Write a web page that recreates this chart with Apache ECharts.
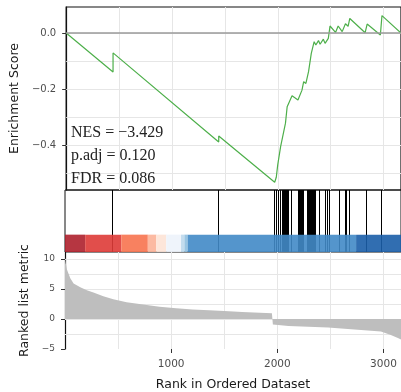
<!DOCTYPE html>
<html>
<head>
<meta charset="utf-8">
<script src="https://cdn.jsdelivr.net/npm/echarts@6/dist/echarts.min.js"></script>
<style>
  html, body { margin: 0; padding: 0; background: #fff; }
  #chart { width: 401px; height: 392px; }
</style>
</head>
<body>
<div id="chart"></div>
<script>
// running enrichment score, [rank, score]
const esPoints = [
  [0, 0], [443, -0.139], [443, -0.071], [1442, -0.389], [1442, -0.368],
  [1971, -0.533], [1986, -0.515], [2000, -0.47], [2010, -0.475], [2027, -0.406],
  [2042, -0.412], [2073, -0.322], [2089, -0.263], [2135, -0.224], [2191, -0.239],
  [2229, -0.204], [2245, -0.174], [2266, -0.18], [2291, -0.138], [2317, -0.073],
  [2344, -0.031], [2360, -0.043], [2385, -0.027], [2400, -0.04], [2431, -0.022],
  [2447, -0.037], [2478, -0.019], [2494, 0.025], [2546, 0.002], [2571, 0.025],
  [2609, 0.005], [2640, 0.033], [2665, 0.024], [2681, 0.052], [2826, 0.001],
  [2845, 0.032], [2970, -0.007], [2985, 0.062], [3165, 0.0]
];

// positions of gene-set hits
const hitRanks = [
  443, 1442, 1971, 1983, 2002, 2021, 2042, 2051, 2060, 2070, 2079, 2088, 2098,
  2105, 2126, 2195, 2207, 2217, 2226, 2236, 2245, 2282, 2291, 2301, 2310, 2319,
  2329, 2338, 2347, 2354, 2394, 2450, 2469, 2488, 2581, 2634, 2649, 2674, 2836, 2976
];

// colour bar segments [fromRank, toRank]
const barSegments = [
  [0, 190], [190, 530], [530, 780], [780, 860], [860, 953], [953, 1093],
  [1093, 1125], [1125, 1155], [1155, 2742], [2742, 3165]
];
const barColors = [
  '#ae202c', '#de3b37', '#f7734f', '#fcb398', '#fde3d6', '#edf3fb',
  '#bdd8ec', '#8fbfdf', '#4189c6', '#1b5ea8'
];

// ranked list metric, [rank, value]
const metricPoints = [
  [0, 10.3], [8, 9.2], [19, 8.2], [50, 6.8], [81, 5.9], [144, 5.3], [206, 4.8],
  [268, 4.4], [361, 3.8], [455, 3.3], [580, 2.8], [735, 2.4], [891, 2.05],
  [1047, 1.8], [1202, 1.6], [1358, 1.45], [1544, 1.3], [1669, 1.17], [1949, 0.95],
  [1958, -0.9], [2105, -1.17], [2478, -1.4], [2789, -1.83], [2976, -2.1],
  [3069, -2.67], [3141, -3.2], [3165, -3.4]
];

const esTicks = [0, -0.2, -0.4];
const esGrid = [0, -0.1, -0.2, -0.3, -0.4, -0.5];
const metricTicks = [-5, 0, 5, 10];
const metricGrid = [10, 7.5, 5, 2.5, 0, -2.5];
const rankTicks = [1000, 2000, 3000];

const X_MAX = 3165;
const ES_MIN = -0.5607, ES_MAX = 0.0929;
const MET_MIN = -5, MET_MAX = 11.17;
const GRID_LINE = '#e6e6e6';
const TICK_TEXT = '#4d4d4d';
const SANS = 'DejaVu Sans';

const chart = echarts.init(document.getElementById('chart'));

const minus = (s) => s.replace('-', '\u2212');

const plainAxis = (gridIndex, min, max) => ({
  type: 'value', gridIndex, min, max,
  axisLine: { show: false }, axisTick: { show: false },
  axisLabel: { show: false }, splitLine: { show: false }
});
const gridLines = () => ({ show: true, lineStyle: { color: GRID_LINE, width: 1 } });
const blackLine = () => ({ show: true, lineStyle: { color: '#111', width: 1.2 } });
const ticks = (values) => ({ show: true, customValues: values, length: 4, lineStyle: { color: '#333' } });
const nameStyle = () => ({ fontFamily: SANS, fontSize: 12.5, color: '#1a1a1a' });

// horizontal background grid lines drawn through the panel's own scales
const hGridSeries = (xi, yi, values) => ({
  type: 'custom', xAxisIndex: xi, yAxisIndex: yi, z: 1, silent: true,
  data: values.map((v) => [0, v]),
  renderItem: (params, api) => {
    const a = api.coord([0, api.value(1)]);
    const b = api.coord([X_MAX, api.value(1)]);
    const y = Math.round(a[1]) + 0.5;
    return {
      type: 'line',
      shape: { x1: a[0], y1: y, x2: b[0], y2: y },
      style: { stroke: GRID_LINE, lineWidth: 1 }
    };
  }
});

const option = {
  animation: false,
  grid: [
    { left: 65, top: 7, right: -3, height: 183, show: true, borderColor: '#111', borderWidth: 1.2, backgroundColor: 'transparent' },
    { left: 65, top: 190, right: -3, height: 62, show: true, borderColor: '#111', borderWidth: 1, backgroundColor: 'transparent' },
    { left: 65, top: 252, right: -3, height: 97 }
  ],
  xAxis: [
    Object.assign(plainAxis(0, 0, X_MAX), { interval: 500, splitLine: gridLines() }),
    plainAxis(1, 0, X_MAX),
    Object.assign(plainAxis(2, 0, X_MAX), {
      interval: 500,
      axisLine: blackLine(),
      splitLine: gridLines(),
      axisLabel: {
        show: true, customValues: rankTicks, color: TICK_TEXT,
        fontFamily: SANS, fontSize: 10.5, margin: 10,
        formatter: (v) => String(v)
      },
      name: 'Rank in Ordered Dataset', nameLocation: 'middle', nameGap: 29,
      nameTextStyle: nameStyle()
    }),
    // tick marks for the rank axis
    Object.assign(plainAxis(2, 0, X_MAX), { position: 'bottom', axisTick: ticks(rankTicks) })
  ],
  yAxis: [
    Object.assign(plainAxis(0, ES_MIN, ES_MAX), {
      position: 'left',
      axisLine: blackLine(),
      axisTick: ticks(esTicks),
      axisLabel: {
        show: true, customValues: esTicks, color: TICK_TEXT, fontFamily: SANS, fontSize: 10, margin: 10,
        formatter: (v) => minus(v.toFixed(1))
      },
      name: 'Enrichment Score', nameLocation: 'middle', nameGap: 40,
      nameTextStyle: nameStyle()
    }),
    plainAxis(1, 0, 1),
    Object.assign(plainAxis(2, MET_MIN, MET_MAX), {
      position: 'left',
      axisLine: blackLine(),
      axisTick: ticks(metricTicks),
      axisLabel: {
        show: true, customValues: metricTicks, color: TICK_TEXT, fontFamily: SANS, fontSize: 9, margin: 10,
        formatter: (v) => minus(String(v))
      },
      name: 'Ranked list metric', nameLocation: 'middle', nameGap: 28,
      nameTextStyle: nameStyle()
    })
  ],
  graphic: [
    {
      type: 'text', left: 71, top: 121, z: 10,
      style: {
        text: 'NES = \u22123.429\np.adj = 0.120\nFDR = 0.086',
        font: '16px "Liberation Serif"', lineHeight: 23, fill: '#222'
      }
    }
  ],
  series: [
    hGridSeries(0, 0, esGrid),
    hGridSeries(2, 2, metricGrid),
    {
      type: 'line', xAxisIndex: 0, yAxisIndex: 0, data: esPoints,
      symbol: 'none', z: 3,
      lineStyle: { color: '#4daf4a', width: 1.2 },
      itemStyle: { color: '#4daf4a' },
      markLine: {
        silent: true, symbol: 'none', label: { show: false },
        lineStyle: { color: '#9a9a9a', width: 1.5, type: 'solid' },
        data: [{ yAxis: 0 }]
      }
    },
    {
      type: 'custom', xAxisIndex: 1, yAxisIndex: 1, z: 2,
      data: hitRanks.map((r) => [r, 0]),
      renderItem: (params, api) => {
        const p0 = api.coord([api.value(0), 0]);
        const p1 = api.coord([api.value(0), 1]);
        const x = Math.round(p0[0]) + 0.5;
        return {
          type: 'line',
          shape: { x1: x, y1: p0[1], x2: x, y2: p1[1] },
          style: { stroke: '#000', lineWidth: 1 }
        };
      }
    },
    {
      type: 'custom', xAxisIndex: 1, yAxisIndex: 1, z: 3,
      data: barSegments,
      renderItem: (params, api) => {
        const p0 = api.coord([api.value(0), 0]);
        const p1 = api.coord([api.value(1), 0.28]);
        return {
          type: 'rect',
          shape: { x: p0[0], y: p1[1], width: p1[0] - p0[0], height: p0[1] - p1[1] },
          style: { fill: barColors[params.dataIndex], opacity: 0.9 }
        };
      }
    },
    {
      type: 'line', xAxisIndex: 2, yAxisIndex: 2, data: metricPoints,
      symbol: 'none', z: 2,
      lineStyle: { width: 0, color: '#bebebe' },
      itemStyle: { color: '#bebebe' },
      areaStyle: { color: '#bebebe', opacity: 1 }
    }
  ]
};

chart.setOption(option);
</script>
</body>
</html>
